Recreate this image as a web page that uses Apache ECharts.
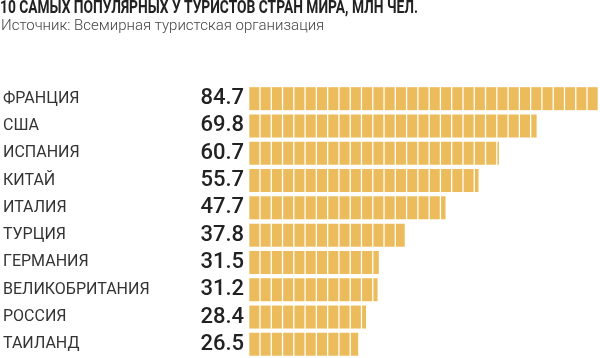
<!DOCTYPE html>
<html><head><meta charset="utf-8">
<script src="https://cdn.jsdelivr.net/npm/echarts@6/dist/echarts.min.js"></script>
<style>html,body{margin:0;padding:0;background:#fff}#c{width:600px;height:358px}</style>
</head><body><div id="c"></div>
<script>
const countries = ['ФРАНЦИЯ','США','ИСПАНИЯ','КИТАЙ','ИТАЛИЯ','ТУРЦИЯ','ГЕРМАНИЯ','ВЕЛИКОБРИТАНИЯ','РОССИЯ','ТАИЛАНД'];
const tourists = [84.7, 69.8, 60.7, 55.7, 47.7, 37.8, 31.5, 31.2, 28.4, 26.5];
const titleText = '10 САМЫХ ПОПУЛЯРНЫХ У ТУРИСТОВ СТРАН МИРА, МЛН ЧЕЛ.';
const sourceText = 'Источник: Всемирная туристская организация';

const cv = document.createElement('canvas').getContext('2d');
cv.font = 'bold 19px Roboto';
const titleScale = 418 / cv.measureText(titleText).width;

const chart = echarts.init(document.getElementById('c'), null, {renderer:'canvas'});
chart.setOption({
  animation: false,
  graphic: [
    {type: 'text', x: 0, y: -1, scaleX: titleScale, scaleY: 1,
     style: {text: titleText, fontFamily: 'Roboto', fontWeight: 'bold', fontSize: 19, fill: '#222', verticalAlign: 'top'}}
  ],
  title: [
    {text: sourceText, left: 1, top: 19, padding: 0, textStyle: {fontFamily: 'Roboto', fontWeight: 300, fontSize: 15, color: '#444'}}
  ],
  grid: {left: 248, right: 2, top: 85, bottom: 0},
  xAxis: {type: 'value', min: 0, max: 84.7, show: false},
  yAxis: {
    type: 'category', data: countries, inverse: true,
    axisLine: {show: false}, axisTick: {show: false},
    axisLabel: {align: 'left', margin: 246, fontFamily: 'Roboto', fontSize: 16, color: '#333'}
  },
  series: [{
    type: 'pictorialBar',
    data: tourists,
    symbol: 'rect',
    symbolRepeat: true,
    symbolClip: true,
    symbolBoundingData: 84.7,
    symbolSize: [10, 23],
    symbolMargin: 0.5,
    itemStyle: {color: '#ECBC5C', borderColor: '#F6D584', borderWidth: 1},
    label: {show: true, position: 'left', distance: 5, fontFamily: 'Roboto', fontWeight: 500, fontSize: 22, color: '#222'}
  }]
});
</script></body></html>
